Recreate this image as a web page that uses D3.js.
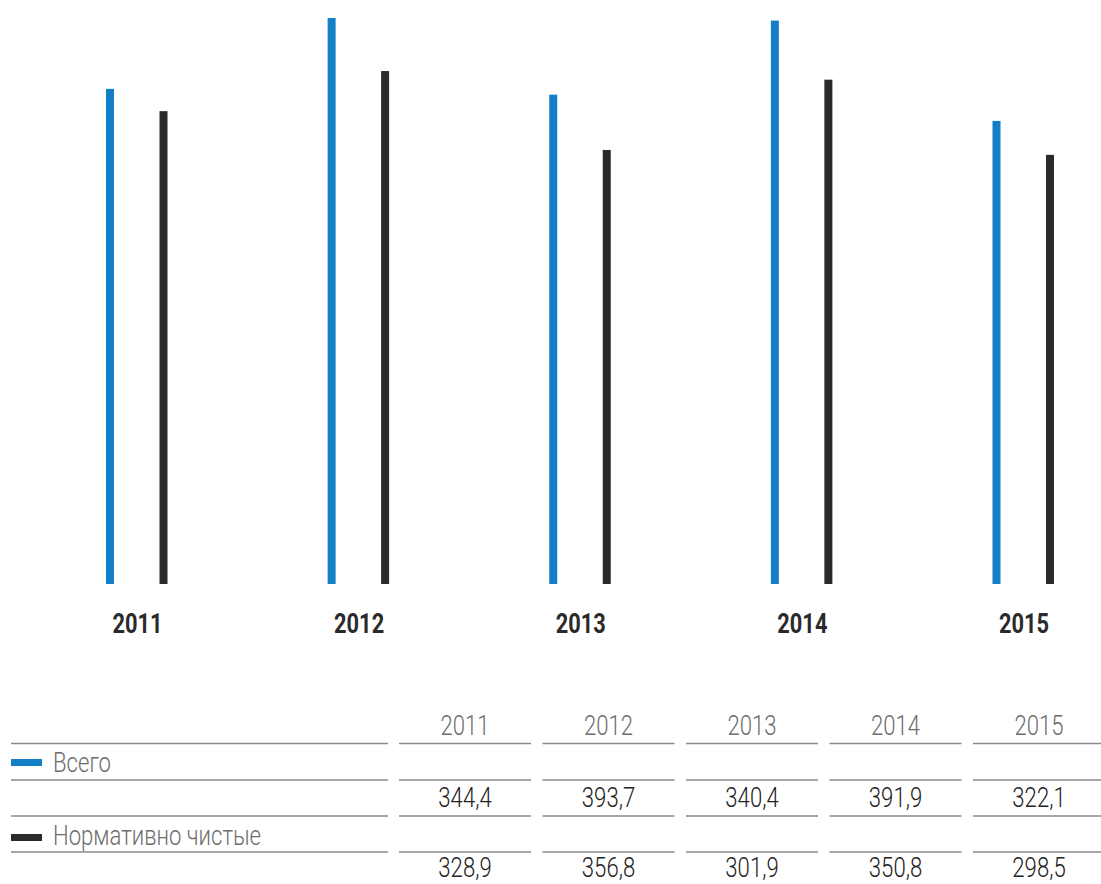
<!doctype html>
<html lang="ru">
<head>
  <meta charset="UTF-8">
  <title>Chart</title>
  <script src="https://cdn.jsdelivr.net/npm/d3@7/dist/d3.min.js"></script>
  <style>
    body { margin: 0; background: #fff; }
    text { font-family: Roboto, sans-serif; }
  </style>
</head>
<body>
<div id="container"></div>
<script type="text/javascript">
var years = ['2011', '2012', '2013', '2014', '2015'];
var total = [344.4, 393.7, 340.4, 391.9, 322.1];
var clean = [328.9, 356.8, 301.9, 350.8, 298.5];
var seriesNames = ['Всего', 'Нормативно чистые'];
var colors = ['#127fc6', '#2a2a2a'];

var width = 1101, height = 884;
var svg = d3.select('#container').append('svg')
  .attr('width', width)
  .attr('height', height);

var x = d3.scalePoint().domain(years).range([136.5, 1023]);
var y = d3.scaleLinear().domain([0, d3.max(total)]).range([584, 18]);
var fmt = function(v) { return d3.format('.1f')(v).replace('.', ','); };

var series = [total, clean];
var offsets = [-26.5, 27];
var barW = 8;

series.forEach(function(vals, s) {
  svg.selectAll('.bar' + s).data(vals).enter()
    .append('rect')
    .attr('class', 'bar' + s)
    .attr('x', function(d, i) { return x(years[i]) + offsets[s] - barW / 2; })
    .attr('y', function(d) { return y(d); })
    .attr('width', barW)
    .attr('height', function(d) { return y(0) - y(d); })
    .attr('fill', colors[s]);
});

// condensed text helper
function ctext(g, tx, ty, str, sx) {
  return g.append('text')
    .attr('transform', 'translate(' + tx + ',' + ty + ') scale(' + sx + ',1)')
    .text(str);
}

years.forEach(function(yr) {
  ctext(svg, x(yr) + 1, 633, yr, 0.78)
    .attr('text-anchor', 'middle')
    .attr('font-size', 28)
    .attr('font-weight', 700)
    .attr('fill', '#2a2a2a');
});

// table
var colX = d3.scalePoint().domain(years).range([465, 1039]);
var colW = 132;
var lineY = [743.5, 780, 816, 852];
var lineColor = '#8a8a8a';

lineY.forEach(function(ly) {
  svg.append('line')
    .attr('x1', 11).attr('x2', 388)
    .attr('y1', ly).attr('y2', ly)
    .attr('stroke', lineColor).attr('stroke-width', 1.5);
  years.forEach(function(yr) {
    var cx = colX(yr);
    svg.append('line')
      .attr('x1', cx - colW / 2).attr('x2', Math.min(cx + colW / 2, width))
      .attr('y1', ly).attr('y2', ly)
      .attr('stroke', lineColor).attr('stroke-width', 1.5);
  });
});

years.forEach(function(yr) {
  ctext(svg, colX(yr), 735, yr, 0.82)
    .attr('text-anchor', 'middle')
    .attr('font-size', 27)
    .attr('font-weight', 300)
    .attr('fill', '#6d6d6d');
});

var valueY = [807, 877];
var labelY = [772, 845];
var swatchY = [759, 834];
series.forEach(function(vals, s) {
  svg.append('rect')
    .attr('x', 11).attr('y', swatchY[s])
    .attr('width', 31).attr('height', 7)
    .attr('fill', colors[s]);
  ctext(svg, 53, labelY[s], seriesNames[s], 0.82)
    .attr('font-size', 27)
    .attr('font-weight', 300)
    .attr('fill', '#6d6d6d');
  vals.forEach(function(v, i) {
    ctext(svg, colX(years[i]), valueY[s], fmt(v), 0.82)
      .attr('text-anchor', 'middle')
      .attr('font-size', 27)
      .attr('font-weight', 300)
      .attr('fill', '#222');
  });
});
</script>
</body>
</html>
